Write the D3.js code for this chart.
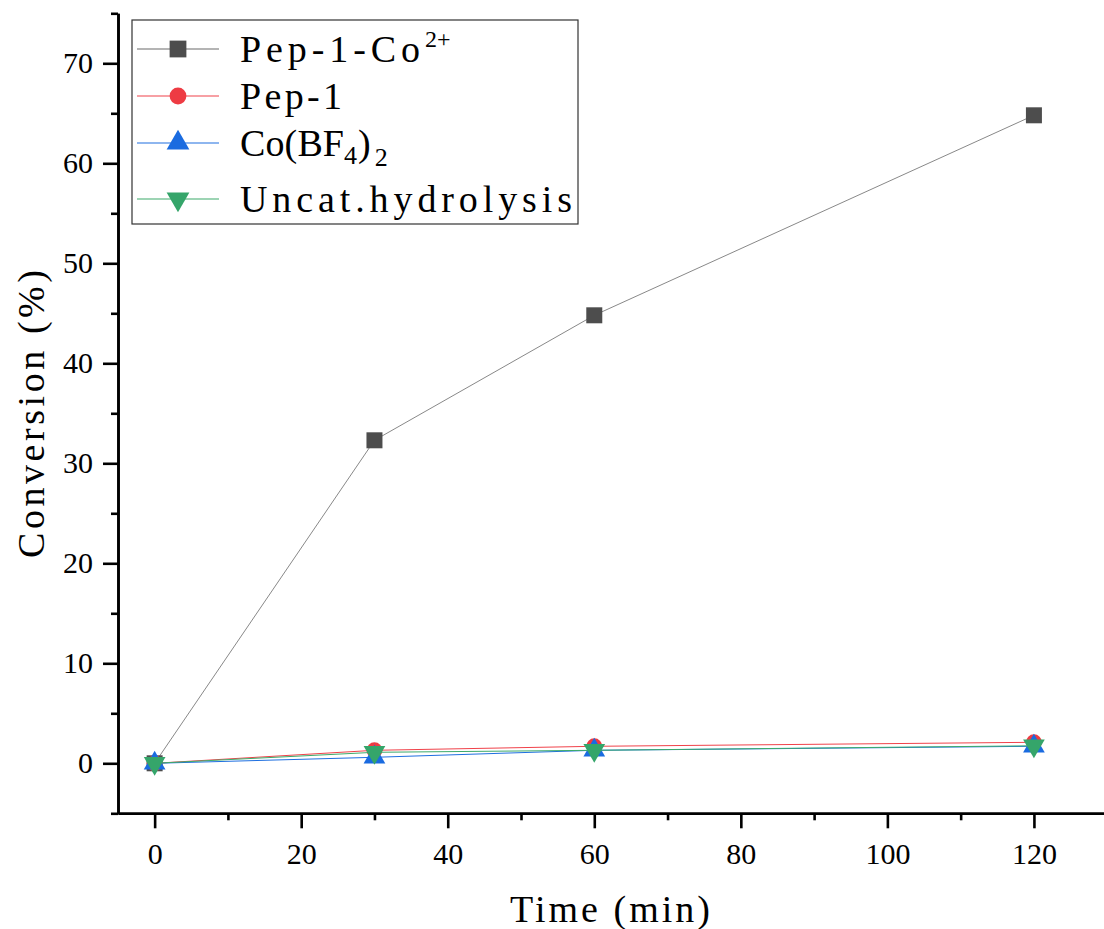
<!DOCTYPE html>
<html>
<head>
<meta charset="utf-8">
<script src="https://cdn.jsdelivr.net/npm/d3@7"></script>
<style>
  body { margin: 0; background: #fff; }
  svg { display: block; }
  text { font-family: "Liberation Serif", "DejaVu Serif", serif; }
</style>
</head>
<body>
<div id="container"></div>
<script>
// data
const times = [0, 30, 60, 120];
const pepCo = [0, 32.3, 44.8, 64.8];
const pep1 = [0, 1.3, 1.7, 2.1];
const coBF4 = [0, 0.6, 1.3, 1.7];
const uncat = [0, 1.1, 1.3, 1.75];

const xMajor = [0, 20, 40, 60, 80, 100, 120];
const xMinor = [10, 30, 50, 70, 90, 110, 130];
const yMajor = [0, 10, 20, 30, 40, 50, 60, 70];
const yMinor = [-5, 5, 15, 25, 35, 45, 55, 65, 75];

const W = 1104, H = 929;
const serif = "Liberation Serif";

const svg = d3.select("#container").append("svg")
  .attr("width", W)
  .attr("height", H)
  .attr("font-family", serif);

const x = d3.scaleLinear().domain([-5, 130]).range([118, 1107.2]);
const y = d3.scaleLinear().domain([-5, 75]).range([813.3, 13.3]);

const series = [
  {name: "pepCo", values: pepCo, line: "#6a6a6a", lw: 0.8, fill: "#4d4d4d", shape: d3.symbolSquare, size: 256, rot: 0},
  {name: "pep1", values: pep1, line: "#f0424a", lw: 1, fill: "#ee3b43", shape: d3.symbolCircle, size: 201, rot: 0},
  {name: "co", values: coBF4, line: "#1e6fe0", lw: 1, fill: "#1a6be0", shape: d3.symbolTriangle, size: 204, rot: 0},
  {name: "uncat", values: uncat, line: "#3daa6b", lw: 1, fill: "#35a56a", shape: d3.symbolTriangle, size: 204, rot: 180}
];

const line = d3.line()
  .x(d => x(d[0]))
  .y(d => y(d[1]));

// lines + markers
series.forEach(s => {
  const pts = times.map((t, i) => [t, s.values[i]]);
  const g = svg.append("g").attr("class", "series " + s.name);
  g.append("path")
    .datum(pts)
    .attr("fill", "none")
    .attr("stroke", s.line)
    .attr("stroke-width", s.lw)
    .attr("d", line);
  g.selectAll("path.mark")
    .data(pts)
    .enter()
    .append("path")
    .attr("class", "mark")
    .attr("d", d3.symbol().type(s.shape).size(s.size))
    .attr("transform", d => `translate(${x(d[0])},${y(d[1])}) rotate(${s.rot})`)
    .attr("fill", s.fill);
});

// axes
function styleAxis(g) {
  g.attr("font-family", serif).attr("font-size", 30);
  g.select(".domain").attr("stroke", "#000").attr("stroke-width", 2.6);
  g.selectAll(".tick line").attr("stroke", "#000").attr("stroke-width", 2.6);
  g.selectAll(".tick text").attr("fill", "#000");
}

svg.append("g")
  .attr("transform", `translate(0,${y(-5)})`)
  .call(d3.axisBottom(x).tickValues(xMajor).tickSize(15).tickPadding(14).tickSizeOuter(0))
  .call(styleAxis);

svg.append("g")
  .attr("transform", `translate(0,${y(-5)})`)
  .call(d3.axisBottom(x).tickValues(xMinor).tickSize(7).tickFormat("").tickSizeOuter(0))
  .call(styleAxis);

svg.append("g")
  .attr("transform", `translate(${x(-5)},0)`)
  .call(d3.axisLeft(y).tickValues(yMajor).tickSize(15).tickPadding(10).tickSizeOuter(0))
  .call(styleAxis);

svg.append("g")
  .attr("transform", `translate(${x(-5)},0)`)
  .call(d3.axisLeft(y).tickValues(yMinor).tickSize(7).tickFormat("").tickSizeOuter(0))
  .call(styleAxis);

// axis titles
svg.append("text")
  .attr("x", 610)
  .attr("y", 922)
  .attr("text-anchor", "middle")
  .attr("textLength", 200)
  .attr("lengthAdjust", "spacing")
  .attr("font-size", 38)
  .text("Time (min)");

svg.append("text")
  .attr("transform", "translate(44,414) rotate(-90)")
  .attr("text-anchor", "middle")
  .attr("textLength", 288)
  .attr("lengthAdjust", "spacing")
  .attr("font-size", 38)
  .text("Conversion (%)");

// legend
const legend = svg.append("g").attr("class", "legend");
legend.append("rect")
  .attr("x", 132).attr("y", 20)
  .attr("width", 446).attr("height", 204)
  .attr("fill", "#fff")
  .attr("stroke", "#333")
  .attr("stroke-width", 1.2);

const rowY = [49, 96, 143, 199];
series.forEach((s, i) => {
  const cy = rowY[i];
  legend.append("line")
    .attr("x1", 137).attr("x2", 219)
    .attr("y1", cy).attr("y2", cy)
    .attr("stroke", s.line)
    .attr("stroke-width", 1.2);
  legend.append("path")
    .attr("d", d3.symbol().type(s.shape).size(s.size * 1.1))
    .attr("transform", `translate(178,${cy}) rotate(${s.rot})`)
    .attr("fill", s.fill);
});

const lt = (i) => legend.append("text")
  .attr("x", 240)
  .attr("y", rowY[i] + 13)
  .attr("font-size", 38);

const t0 = lt(0);
t0.append("tspan").attr("textLength", 180).attr("lengthAdjust", "spacing").text("Pep-1-Co");
t0.append("tspan").attr("dy", -15).attr("font-size", 24).text("2+");

lt(1).attr("textLength", 102).attr("lengthAdjust", "spacing").text("Pep-1");

const t2 = lt(2);
t2.append("tspan").attr("textLength", 104).attr("lengthAdjust", "spacing").text("Co(BF");
t2.append("tspan").attr("dy", 8).attr("font-size", 26).text("4");
t2.append("tspan").attr("dy", -8).attr("dx", 1).text(")");
t2.append("tspan").attr("dy", 10).attr("dx", 4).attr("font-size", 26).text("2");

lt(3).attr("textLength", 332).attr("lengthAdjust", "spacing").text("Uncat.hydrolysis");
</script>
</body>
</html>
